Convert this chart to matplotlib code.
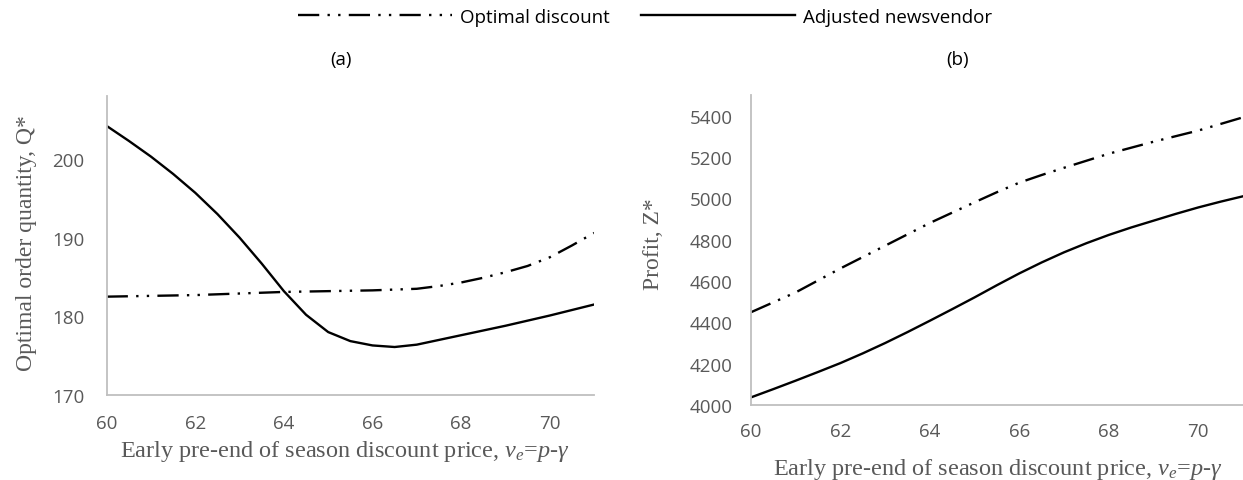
import matplotlib
matplotlib.use("Agg")
import matplotlib.pyplot as plt

# discount price grid (half steps)
price = [60, 60.5, 61, 61.5, 62, 62.5, 63, 63.5, 64, 64.5, 65, 65.5,
         66, 66.5, 67, 67.5, 68, 68.5, 69, 69.5, 70, 70.5, 71]

# (a) optimal order quantity Q*
q_optimal = [182.5, 182.55, 182.6, 182.65, 182.7, 182.8, 182.9, 183.0, 183.1, 183.15, 183.2, 183.25,
             183.3, 183.4, 183.5, 183.85, 184.3, 184.9, 185.6, 186.4, 187.5, 189.0, 190.6]
q_adjusted = [204.2, 202.3, 200.3, 198.1, 195.7, 193.0, 190.0, 186.7, 183.2, 180.2, 178.0, 176.85,
              176.3, 176.1, 176.4, 177.0, 177.6, 178.2, 178.8, 179.45, 180.1, 180.8, 181.5]

# (b) profit Z*
z_optimal = [4449, 4497, 4545, 4603, 4661, 4716, 4771, 4826, 4881, 4931, 4981, 5030,
             5076, 5113, 5148, 5182, 5216, 5245, 5274, 5301, 5328, 5360, 5392]
z_adjusted = [4037, 4077, 4118, 4160, 4203, 4250, 4300, 4353, 4408, 4464, 4521, 4580,
              4637, 4690, 4739, 4783, 4823, 4859, 4892, 4925, 4956, 4984, 5010]

x_ticks = [60, 62, 64, 66, 68, 70]
q_ticks = [170, 180, 190, 200]
z_ticks = [4000, 4200, 4400, 4600, 4800, 5000, 5200, 5400]

plt.rcParams["mathtext.fontset"] = "custom"
plt.rcParams["mathtext.rm"] = "Liberation Serif"
plt.rcParams["mathtext.it"] = "Liberation Serif:italic"

GRAY = "#595959"
SPINE = "#BFBFBF"
DASH_DOT_DOT = (0, (9, 3.5, 1, 3.5, 1, 3.5))
LW = 1.7
SANS = "Open Sans"
SERIF = "Liberation Serif"

fig = plt.figure(figsize=(12.43, 4.81), dpi=100)
ax_a = fig.add_axes([0.0858, 0.1767, 0.3921, 0.6216])
ax_b = fig.add_axes([0.6042, 0.1559, 0.3958, 0.6445])

xlabel = r"Early pre-end of season discount price, $v_e$=$p$-$\gamma$"


def style_axis(ax, yticks, ylim, xpad, ypad):
    for side in ("top", "right"):
        ax.spines[side].set_visible(False)
    for side in ("left", "bottom"):
        ax.spines[side].set_color(SPINE)
        ax.spines[side].set_linewidth(1.3)
    ax.set_xlim(60, 71)
    ax.set_ylim(*ylim)
    ax.set_xticks(x_ticks)
    ax.set_yticks(yticks)
    ax.tick_params(axis="both", length=0, labelcolor=GRAY, labelsize=13.5)
    ax.tick_params(axis="x", pad=xpad)
    ax.tick_params(axis="y", pad=ypad)
    for lab in ax.get_xticklabels() + ax.get_yticklabels():
        lab.set_family(SANS)


# panel (a)
l_opt, = ax_a.plot(price, q_optimal, color="black", lw=LW, ls=DASH_DOT_DOT, label="Optimal discount")
l_adj, = ax_a.plot(price, q_adjusted, color="black", lw=LW, ls="-", label="Adjusted newsvendor")
style_axis(ax_a, q_ticks, (170, 208), 14, 16)
ax_a.set_ylabel("Optimal order quantity, Q*", family=SERIF, fontsize=17, color=GRAY)
ax_a.yaxis.set_label_coords(-0.143, 0.512)
ax_a.set_xlabel(xlabel, family=SERIF, fontsize=17.5, color=GRAY)
ax_a.xaxis.set_label_coords(0.489, -0.145)

# panel (b)
ax_b.plot(price, z_optimal, color="black", lw=LW, ls=DASH_DOT_DOT)
ax_b.plot(price, z_adjusted, color="black", lw=LW, ls="-")
style_axis(ax_b, z_ticks, (4000, 5500), 12, 13)
ax_b.set_ylabel("Profit, Z*", family=SERIF, fontsize=17, color=GRAY)
ax_b.yaxis.set_label_coords(-0.177, 0.523)
ax_b.set_xlabel(xlabel, family=SERIF, fontsize=17.5, color=GRAY)
ax_b.xaxis.set_label_coords(0.502, -0.163)

fig.text(0.274, 0.875, "(a)", ha="center", va="center", family=SANS, fontsize=13.5)
fig.text(0.770, 0.875, "(b)", ha="center", va="center", family=SANS, fontsize=13.5)

fig.legend(handles=[l_opt, l_adj], loc="center", bbox_to_anchor=(0.519, 0.963), ncol=2,
           frameon=False, handlelength=8.2, handletextpad=0.4, columnspacing=1.7,
           prop={"family": SANS, "size": 13.5})

fig.savefig("out.png", dpi=100)
